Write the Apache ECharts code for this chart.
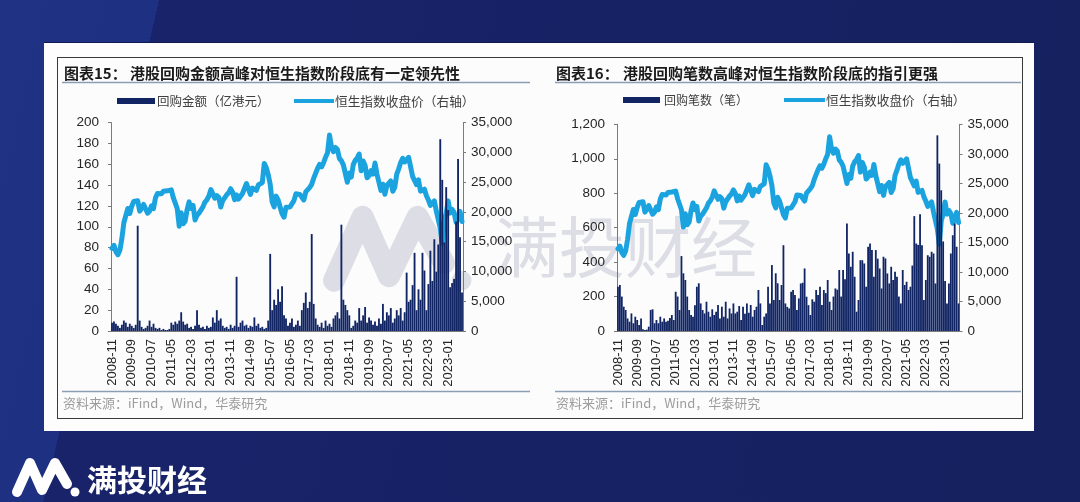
<!DOCTYPE html>
<html><head><meta charset="utf-8">
<script src="https://cdn.jsdelivr.net/npm/echarts@6/dist/echarts.min.js"></script>
<style>
html,body{margin:0;padding:0;}
body{width:1080px;height:502px;overflow:hidden;position:relative;
background:linear-gradient(103deg,#203284 0%,#1e3082 13.3%,#18236a 13.3%,#16215f 100%);}
#panel{position:absolute;left:44px;top:43px;width:990px;height:388px;background:#fdfdfd;box-shadow:0 -1px 0 #0f1a50;}
#frame{position:absolute;left:57px;top:57px;width:964px;height:360px;border:1px solid #3a3a3a;background:#fcfcfd;}
#c{position:absolute;left:0;top:0;width:1080px;height:502px;}
</style>
</head><body>
<div id="panel"></div><div id="frame"></div>
<div id="c"></div>
<script>
// ---- data ----
const startYear = 2008, startMonth = 11, monthCount = 178;
const months = [];
for (let k = 0; k < monthCount; k++) {
  const m = startMonth - 1 + k;
  const y = startYear + Math.floor(m / 12);
  const mm = (m % 12) + 1;
  months.push(y + '-' + (mm < 10 ? '0' + mm : mm));
}
// 恒生指数收盘价 (monthly)
const hsiClose = [
  13888,14387,
  13278,12812,13576,15521,18171,18379,20573,19724,20955,21753,21822,21873,
  20122,20609,21239,21108,19765,20129,21030,20537,22358,23096,23008,23035,
  23447,23338,23528,23720,23684,22398,22440,20535,17592,19864,17989,18434,
  20390,21680,20556,21094,18630,19441,19796,19482,20840,21642,22030,22657,
  23729,23020,22300,22737,22392,20803,21884,21731,22860,23206,23882,23306,
  22035,22837,22151,22134,23082,23191,24757,24742,22933,23998,23987,23605,
  24507,24823,24901,28133,27424,26250,24636,21670,20846,22640,21996,21914,
  19683,19112,20777,21067,20815,20794,21891,23024,23297,22935,22790,22001,
  23361,23741,24112,24615,25661,25765,27323,27970,27554,28246,29177,29919,
  32887,30845,30093,30808,30469,28955,28583,27889,27789,24980,26507,25846,
  27942,28633,29051,29699,26901,28543,27778,25725,26092,26907,26346,28190,
  26313,26130,23603,24644,22961,24427,24595,25177,23459,24107,26341,27231,
  28284,28980,28378,28725,29152,28828,25961,25879,24576,25377,23475,23398,
  23802,22713,21997,21089,21415,21860,20157,19954,17223,14687,18597,19781,
  21842,19786,20400,19895,18234,18916,20079,18382
];
// 回购金额（亿港元）
const buybackAmount = [
  8,9,7,5,3,6,10,8,4,7,
  5,3,6,101,10,4,2,3,5,10,
  4,7,3,2,3,1,2,1,1,2,
  8,6,9,7,10,18,9,6,7,3,
  4,2,5,20,6,3,4,2,5,3,
  4,13,8,20,10,12,5,3,4,2,
  6,3,5,52,4,8,10,5,6,3,
  5,4,13,5,7,3,4,2,3,10,
  74,20,30,25,40,28,43,15,12,5,
  8,12,4,6,10,5,20,27,37,22,
  28,93,26,12,6,4,8,3,10,5,
  7,4,12,15,18,12,102,30,25,20,
  15,3,5,10,8,22,10,15,23,8,
  13,10,6,9,5,12,7,26,10,18,
  15,22,8,12,20,15,22,10,18,56,
  28,30,44,75,20,40,30,75,58,20,
  45,77,48,88,57,83,184,145,85,138,
  116,42,46,50,105,165,90,37
];
// 回购笔数（笔）
const buybackCount = [
  257,267,200,141,122,73,54,102,45,83,
  64,35,73,10,6,8,25,122,126,45,
  64,45,83,54,73,54,60,75,93,64,
  228,200,122,435,335,296,200,122,93,83,
  150,257,277,160,122,102,170,112,83,126,
  93,112,151,73,141,83,170,73,131,102,
  160,102,112,145,64,141,100,160,106,151,
  83,122,141,238,160,35,83,102,257,160,
  383,180,335,277,180,267,498,160,140,131,
  228,238,209,122,189,276,280,363,199,150,
  93,184,170,238,209,257,151,238,220,296,
  170,122,200,247,240,354,200,354,300,624,
  450,373,460,315,112,180,411,411,392,257,
  489,508,470,315,470,420,363,247,431,421,
  334,276,373,296,344,315,200,160,354,267,
  286,238,257,380,667,508,500,678,498,180,
  296,440,431,460,450,276,1136,972,817,520,
  290,160,276,450,556,624,489,160
];
const amountAxis = {min: 0, max: 200, interval: 20};
const countAxis = {min: 0, max: 1200, interval: 200};
const indexAxis = {min: 0, max: 35000, interval: 5000};
const titles = ['图表15：', '港股回购金额高峰对恒生指数阶段底有一定领先性', '图表16：', '港股回购笔数高峰对恒生指数阶段底的指引更强'];
const legendNames = ['回购金额（亿港元）', '恒生指数收盘价（右轴）', '回购笔数（笔）'];
const sourceNote = '资料来源：iFind，Wind，华泰研究';
const brand = '满投财经';

// ---- styles ----
const BAR = '#112564', LINE = '#1ba3df', AXIS = '#7a7a7a', LBL = '#262626';
const numFmt = v => v.toLocaleString('en-US');
function xAx(g) {
  return {type: 'category', gridIndex: g, data: months, boundaryGap: true,
    axisLine: {lineStyle: {color: AXIS, width: 1}},
    axisTick: {interval: 9, length: 4, alignWithLabel: true, lineStyle: {color: AXIS}},
    axisLabel: {interval: 9, rotate: 90, fontSize: 13, color: LBL, fontFamily: 'Liberation Sans, Arial', margin: 8},
    splitLine: {show: false}};
}
function yAx(g, pos, cfg, margin) {
  return {type: 'value', gridIndex: g, position: pos, min: cfg.min, max: cfg.max, interval: cfg.interval,
    axisLine: {show: true, lineStyle: {color: AXIS}},
    axisTick: {show: true, length: 3, lineStyle: {color: AXIS}},
    axisLabel: {fontSize: 13.5, color: LBL, fontFamily: 'Liberation Sans, Arial', margin: margin, formatter: numFmt},
    splitLine: {show: false}};
}
const CJK = 'Noto Sans CJK SC';
function txt(t, x, y, size, color, weight, align) {
  return {type: 'text', silent: true, style: {text: t, x: x, y: y, fill: color, fontSize: size, fontWeight: weight || 'normal',
    fontFamily: CJK, align: align || 'left', verticalAlign: 'middle', textAlign: align || 'left', textVerticalAlign: 'middle'}};
}
function hline(x1, x2, y, color, w) {
  return {type: 'line', silent: true, shape: {x1: x1, y1: y, x2: x2, y2: y}, style: {stroke: color, lineWidth: w || 1}};
}
function logo(ox, oy, s, color, sw) {
  const P = (x, y) => [ox + (x - 12) * s, oy + (y - 459) * s];
  return [
    {type: 'polyline', silent: true, shape: {points: [P(17, 492), P(30, 463), P(42, 490), P(55, 463), P(67, 484)]},
      style: {stroke: color, lineWidth: sw, lineCap: 'round', lineJoin: 'round', fill: null}},
    {type: 'circle', silent: true, shape: {cx: P(75, 492)[0], cy: P(75, 492)[1], r: 4.5 * s}, style: {fill: color}}
  ];
}
const WM = '#dcdde5';
const graphics = [].concat(
  logo(323, 208, 2.2, WM, 22),
  [txt(brand, 493, 247, 66, WM, 'normal')],
  [
    txt(titles[0], 64, 73, 15, '#1a1a1a', 'bold'),
    txt(titles[1], 130, 73, 15, '#1a1a1a', 'bold'),
    txt(titles[2], 556, 73, 15, '#1a1a1a', 'bold'),
    txt(titles[3], 623, 73, 15, '#1a1a1a', 'bold'),
    hline(62, 530, 82.5, '#8d9db6', 1.5),
    hline(555, 1021, 82.5, '#8d9db6', 1.5),
    hline(62, 530, 391.5, '#8d9db6', 1.5),
    hline(555, 1021, 391.5, '#8d9db6', 1.5),
    // legends
    {type: 'rect', silent: true, shape: {x: 117, y: 98, width: 38, height: 6}, style: {fill: BAR}},
    txt(legendNames[0], 157, 101, 12.5, '#404040'),
    hline(294, 334, 101, LINE, 4),
    txt(legendNames[1], 335, 101, 12.7, '#404040'),
    {type: 'rect', silent: true, shape: {x: 623, y: 97, width: 37, height: 6}, style: {fill: BAR}},
    txt(legendNames[2], 664, 100, 12, '#404040'),
    hline(784, 825, 100, LINE, 4),
    txt(legendNames[1], 826, 100, 12.7, '#404040'),
    txt(sourceNote, 63, 403, 13, '#9c9c9c'),
    txt(sourceNote, 556, 403, 13, '#9c9c9c')
  ],
  logo(12, 459, 1, '#ffffff', 10),
  [txt(brand, 87, 480, 30, '#ffffff', 'bold')]
);
graphics.forEach(g => { g.z = -10; });

const chart = echarts.init(document.getElementById('c'), null, {renderer: 'canvas'});
chart.setOption({
  animation: false,
  backgroundColor: 'transparent',
  graphic: {elements: graphics},
  grid: [
    {left: 111, top: 122.5, width: 352, height: 208.5},
    {left: 617, top: 124.3, width: 342.5, height: 206.7}
  ],
  xAxis: [xAx(0), xAx(1)],
  yAxis: [yAx(0, 'left', amountAxis, 12), yAx(0, 'right', indexAxis, 8), yAx(1, 'left', countAxis, 12), yAx(1, 'right', indexAxis, 8)],
  series: [
    {name: legendNames[1], type: 'line', xAxisIndex: 0, yAxisIndex: 1, data: hsiClose, symbol: 'none', z: 2,
      lineStyle: {color: LINE, width: 5, join: 'round', cap: 'round'}, itemStyle: {color: LINE}},
    {name: legendNames[0], type: 'bar', xAxisIndex: 0, yAxisIndex: 0, data: buybackAmount, z: 3,
      barCategoryGap: '6%', itemStyle: {color: BAR}},
    {name: legendNames[1] + ' ', type: 'line', xAxisIndex: 1, yAxisIndex: 3, data: hsiClose, symbol: 'none', z: 2,
      lineStyle: {color: LINE, width: 5, join: 'round', cap: 'round'}, itemStyle: {color: LINE}},
    {name: legendNames[2], type: 'bar', xAxisIndex: 1, yAxisIndex: 2, data: buybackCount, z: 3,
      barCategoryGap: '6%', itemStyle: {color: BAR}}
  ]
});
</script>
</body></html>
